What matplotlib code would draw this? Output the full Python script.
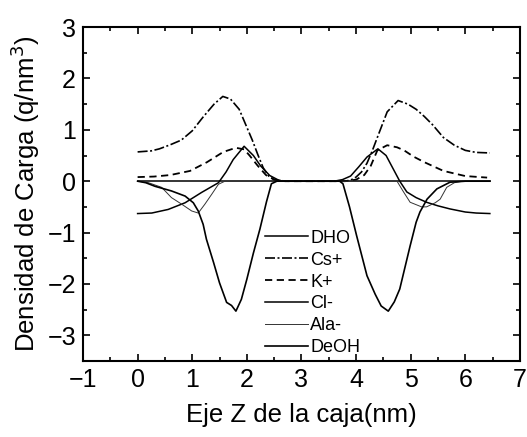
import matplotlib
matplotlib.use("Agg")
import matplotlib.pyplot as plt
from matplotlib.ticker import MultipleLocator

plt.rcParams['font.family'] = ['Liberation Sans', 'DejaVu Sans']

# Charge density profiles along the box Z axis (nm, q/nm^3)
z_dho = [0, 0.26, 0.56, 0.87, 1.17, 1.48, 1.62, 1.75, 1.95, 2.12, 2.25, 2.42, 2.6, 2.8,
         3.6, 3.75, 3.9, 4.05, 4.2, 4.4, 4.55, 4.68, 4.8, 4.93, 5.1, 5.29, 5.5, 5.72,
         6.0, 6.2, 6.45]
q_dho = [-0.63, -0.62, -0.55, -0.42, -0.22, -0.03, 0.18, 0.42, 0.68, 0.5, 0.3, 0.11, 0.01, 0,
         0, 0.03, 0.1, 0.28, 0.47, 0.63, 0.5, 0.24, 0.0, -0.21, -0.32, -0.41, -0.48, -0.54,
         -0.6, -0.62, -0.63]

z_cs = [0, 0.25, 0.4, 0.6, 0.8, 1.0, 1.2, 1.4, 1.56, 1.7, 1.86, 2.0, 2.1, 2.2, 2.3, 2.4,
        2.5, 2.7, 3.0, 3.5, 3.8, 3.9, 4.0, 4.1, 4.2, 4.3, 4.4, 4.57, 4.77, 4.95, 5.1, 5.25,
        5.4, 5.6, 5.8, 6.0, 6.2, 6.45]
q_cs = [0.57, 0.59, 0.63, 0.71, 0.8, 0.98, 1.25, 1.5, 1.65, 1.6, 1.4, 1.05, 0.8, 0.52, 0.26, 0.1,
        0.03, 0, 0, 0, 0, 0.02, 0.08, 0.18, 0.35, 0.6, 0.88, 1.35, 1.57, 1.5, 1.4, 1.26,
        1.1, 0.85, 0.7, 0.6, 0.56, 0.55]

z_k = [0, 0.3, 0.6, 0.96, 1.27, 1.57, 1.8, 1.95, 2.05, 2.2, 2.35, 2.5, 2.7,
       3.8, 4.0, 4.15, 4.27, 4.39, 4.57, 4.75, 4.88, 5.05, 5.25, 5.6, 6.0, 6.4]
q_k = [0.08, 0.09, 0.12, 0.2, 0.37, 0.57, 0.65, 0.62, 0.5, 0.3, 0.12, 0.03, 0,
       0, 0.03, 0.12, 0.3, 0.6, 0.7, 0.66, 0.6, 0.48, 0.37, 0.2, 0.1, 0.07]

z_cl = [0, 1.0, 2.0, 3.0, 4.0, 5.0, 6.0, 6.45]
q_cl = [0, 0, 0, 0, 0, 0, 0, 0]

z_ala = [0, 0.2, 0.44, 0.62, 0.81, 0.99, 1.11, 1.23, 1.36, 1.48, 1.6, 2.0,
         4.5, 4.75, 4.87, 4.99, 5.2, 5.29, 5.45, 5.54, 5.66, 5.8, 5.95, 6.45]
q_ala = [0, -0.03, -0.12, -0.32, -0.45, -0.58, -0.62, -0.45, -0.25, -0.06, 0, 0,
         0, 0, -0.21, -0.41, -0.5, -0.5, -0.42, -0.35, -0.12, -0.03, 0, 0]

z_deoh = [0, 0.15, 0.32, 0.62, 0.87, 1.02, 1.11, 1.2, 1.26, 1.39, 1.5, 1.63, 1.72, 1.8,
          1.9, 2.0, 2.12, 2.24, 2.36, 2.45, 2.55,
          3.7, 3.76, 3.88, 4.01, 4.2, 4.35, 4.46, 4.59, 4.7, 4.8, 4.99, 5.1, 5.17, 5.3,
          5.48, 5.72, 6.0, 6.45]
q_deoh = [0, -0.03, -0.1, -0.19, -0.29, -0.42, -0.58, -0.84, -1.13, -1.58, -1.98, -2.36, -2.42, -2.53,
          -2.3, -1.91, -1.4, -0.93, -0.4, -0.05, 0,
          0, -0.05, -0.5, -1.06, -1.84, -2.2, -2.43, -2.53, -2.35, -2.1, -1.26, -0.8, -0.6, -0.35,
          -0.15, -0.02, 0, 0]

fig = plt.figure(figsize=(5.27, 4.37), dpi=100)
ax = fig.add_axes([0.1575, 0.174, 0.829, 0.764])

ax.plot(z_dho, q_dho, color="black", lw=1.1, label="DHO")
ax.plot(z_cs, q_cs, color="black", lw=1.2, dashes=(6, 1.5, 1.2, 1.5), label="Cs+")
ax.plot(z_k, q_k, color="black", lw=1.3, dashes=(4, 2.5), label="K+")
ax.plot(z_cl, q_cl, color="black", lw=1.1, label="Cl-")
ax.plot(z_ala, q_ala, color="#333333", lw=0.7, label="Ala-")
ax.plot(z_deoh, q_deoh, color="black", lw=1.2, label="DeOH")

ax.set_xlim(-1, 7)
ax.set_ylim(-3.5, 3)
ax.xaxis.set_major_locator(MultipleLocator(1))
ax.xaxis.set_minor_locator(MultipleLocator(0.5))
ax.yaxis.set_major_locator(MultipleLocator(1))
ax.yaxis.set_minor_locator(MultipleLocator(0.5))
ax.tick_params(which="both", direction="in", top=True, right=True, labelsize=18, width=1.2, pad=5)
ax.tick_params(which="major", length=5)
ax.tick_params(which="minor", length=3)
for s in ax.spines.values():
    s.set_linewidth(1.5)

ax.set_xlabel("Eje Z de la caja(nm)", fontsize=18.5, labelpad=8)
ax.set_ylabel("Densidad de Carga (q/nm$^3$)", fontsize=18.5, labelpad=4)

ax.legend(loc="upper left", bbox_to_anchor=(0.4165, 0.393), frameon=False, fontsize=13,
          handlelength=2.4, handletextpad=0.1, labelspacing=0.27,
          borderpad=0, borderaxespad=0)

fig.savefig("out.png", dpi=100)
